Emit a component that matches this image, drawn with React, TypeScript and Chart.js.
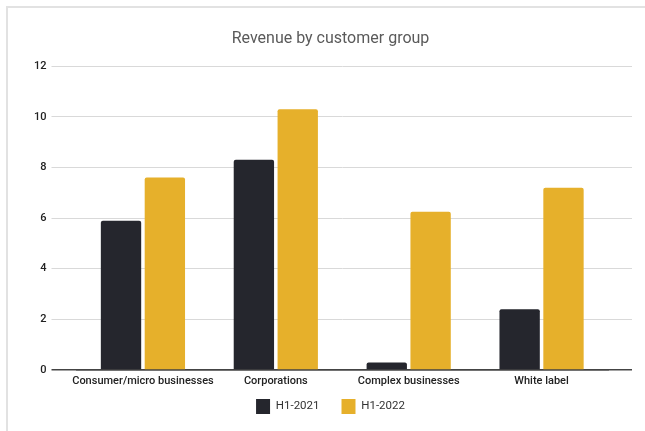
import React, { useEffect, useRef } from "react";
import { Chart, registerables } from "chart.js";

Chart.register(...registerables);

const categories = ["Consumer/micro businesses", "Corporations", "Complex businesses", "White label"];
const seriesNames = ["H1-2021", "H1-2022"];
const h12021 = [5.9, 8.3, 0.3, 2.4];
const h12022 = [7.6, 10.3, 6.25, 7.2];
const yTicks = [0, 2, 4, 6, 8, 10, 12];

const DARK = "#25262d";
const YELLOW = "#e6b02b";
const GRID = "#d9d9d9";
const ZERO = "#444444";

const legendLift = {
  id: "legendLift",
  afterLayout(chart: any) {
    const lg = chart.legend;
    if (!lg) return;
    const h = lg.bottom - lg.top;
    lg.top = chart.chartArea.bottom + 7;
    lg.bottom = lg.top + h;
    if (lg.legendHitBoxes) {
      // keep hitboxes consistent (not strictly needed)
    }
  },
};

export default function App() {
  const ref = useRef<HTMLCanvasElement>(null);
  useEffect(() => {
    if (!ref.current) return;
    const isZero = (ctx: any) => ctx.tick && ctx.tick.value === 0;
    const gridColor = (ctx: any) => (isZero(ctx) ? ZERO : GRID);
    const gridWidth = (ctx: any) => (isZero(ctx) ? 1.5 : 1);
    const chart = new Chart(ref.current, {
      type: "bar",
      data: {
        labels: categories,
        datasets: [
          { label: seriesNames[0], data: h12021, backgroundColor: DARK, borderRadius: 2, borderSkipped: "bottom" },
          { label: seriesNames[1], data: h12022, backgroundColor: YELLOW, borderRadius: 2, borderSkipped: "bottom" },
        ],
      },
      plugins: [legendLift],
      options: {
        responsive: false,
        animation: false,
        layout: { padding: { left: 29, right: 13, top: 0, bottom: -6 } },
        datasets: { bar: { categoryPercentage: 0.66, barPercentage: 0.92 } },
        plugins: {
          title: {
            display: true,
            text: "Revenue by customer group",
            color: "#5a5a5a",
            font: { family: "Roboto", size: 16, weight: "normal" },
            padding: { top: 29, bottom: 18 },
          },
          legend: {
            position: "bottom",
            labels: {
              color: "#333",
              font: { family: "Roboto", size: 11.5 },
              boxWidth: 14,
              boxHeight: 15,
              padding: 22,
            },
          },
          tooltip: { enabled: false },
        },
        scales: {
          x: {
            afterFit: (axis: any) => { axis.height = 20; },
            grid: { display: false, drawTicks: false, tickLength: 0 },
            border: { display: true, color: ZERO, width: 1.5 },
            ticks: {
              color: "#222",
              font: { family: "Roboto", size: 11, weight: 500 },
              padding: 5,
              maxRotation: 0,
              minRotation: 0,
              autoSkip: false,
            },
          },
          y: {
            min: 0,
            max: 12,
            afterBuildTicks: (axis: any) => { axis.ticks = yTicks.map((v) => ({ value: v })); },
            grid: { color: gridColor, tickColor: gridColor, lineWidth: gridWidth, tickWidth: gridWidth, tickLength: 25, drawTicks: true },
            border: { display: false },
            ticks: { color: "#222", font: { family: "Roboto", size: 11, weight: 500 }, padding: 5 },
          },
          y2: {
            position: "right",
            min: 0,
            max: 12,
            afterBuildTicks: (axis: any) => { axis.ticks = yTicks.map((v) => ({ value: v })); },
            grid: { drawOnChartArea: false, color: gridColor, tickColor: gridColor, lineWidth: gridWidth, tickWidth: gridWidth, tickLength: 24, drawTicks: true },
            border: { display: false },
            ticks: { display: false },
          },
        },
      },
    });
    return () => chart.destroy();
  }, []);
  return (
    <div style={{ position: "fixed", left: 0, top: 0, width: 645, height: 431, background: "#fff" }}>
      <div
        style={{
          position: "absolute",
          left: 6,
          top: 6,
          right: 0,
          bottom: 0,
          borderLeft: "2px solid #e2e2e2",
          borderTop: "2px solid #e2e2e2",
        }}
      />
      <canvas ref={ref} width={645} height={431} style={{ position: "absolute", left: 0, top: 0 }} />
    </div>
  );
}
